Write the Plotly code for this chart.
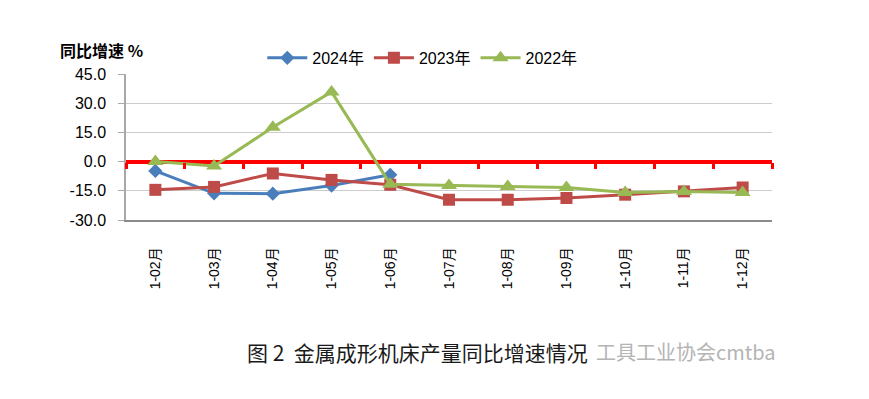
import plotly.graph_objects as go

categories = ["1-02月", "1-03月", "1-04月", "1-05月", "1-06月", "1-07月",
              "1-08月", "1-09月", "1-10月", "1-11月", "1-12月"]
y2024 = [-4.8, -16.3, -16.5, -12.3, -6.8, None, None, None, None, None, None]
y2023 = [-14.5, -13.0, -6.1, -9.4, -11.9, -19.6, -19.6, -18.7, -17.0, -15.3, -13.3]
y2022 = [0.0, -2.2, 17.6, 35.8, -11.6, -12.3, -12.8, -13.3, -15.9, -15.3, -15.9]
yticks = [45, 30, 15, 0, -15, -30]
ytick_text = ["45.0", "30.0", "15.0", "0.0", "-15.0", "-30.0"]

C24, C23, C22 = "#4A7EBB", "#BE4B48", "#98B954"
FONT = "Liberation Sans, Arial, Noto Sans CJK SC"

fig = go.Figure()
fig.add_trace(go.Scatter(x=categories, y=y2024, name="2024年", mode="lines+markers",
                         line=dict(color=C24, width=3),
                         marker=dict(symbol="diamond", size=11, color=C24)))
fig.add_trace(go.Scatter(x=categories, y=y2023, name="2023年", mode="lines+markers",
                         line=dict(color=C23, width=3),
                         marker=dict(symbol="square", size=12, color=C23)))
fig.add_trace(go.Scatter(x=categories, y=y2022, name="2022年", mode="lines+markers",
                         line=dict(color=C22, width=3),
                         marker=dict(symbol="triangle-up", size=14, color=C22)))
# invisible trace to carry the zero-line category axis
fig.add_trace(go.Scatter(x=categories, y=[0] * len(categories), xaxis="x2", mode="lines",
                         line=dict(width=0), opacity=0, showlegend=False, hoverinfo="skip"))

ymin, ymax = -30, 45
zero_pos = (0 - ymin) / (ymax - ymin)

fig.update_layout(
    width=869, height=399,
    margin=dict(l=126, r=97, t=74, b=179, autoexpand=False),
    paper_bgcolor="white", plot_bgcolor="white",
    font=dict(family=FONT, size=15, color="#000000"),
    showlegend=True,
    legend=dict(orientation="h", x=0.211, xanchor="left", y=1.11, yanchor="middle",
                font=dict(family=FONT, size=16, color="#000000"),
                itemwidth=40, bgcolor="rgba(0,0,0,0)"),
    xaxis=dict(type="category", range=[-0.5, 10.5], showgrid=False, automargin=False,
               showline=True, linecolor="#8a8a8a", linewidth=1.5,
               ticks="", tickangle=-90, ticklabelstandoff=20,
               tickfont=dict(family=FONT, size=14, color="#000000"),
               mirror=False, zeroline=False),
    xaxis2=dict(type="category", range=[-0.5, 10.5], overlaying="x", anchor="free",
                position=zero_pos, showgrid=False, showline=False, automargin=False,
                ticks="outside", tickson="boundaries", ticklen=6, tickwidth=2.5,
                tickcolor="#FF0000", showticklabels=False, zeroline=False),
    yaxis=dict(range=[ymin, ymax], tickvals=yticks, ticktext=ytick_text, automargin=False,
               showgrid=True, gridcolor="#cccccc", gridwidth=1.2,
               showline=True, linecolor="#a8a8a8", linewidth=1.5,
               ticks="outside", ticklen=6, tickcolor="#a8a8a8",
               ticklabelstandoff=9,
               zeroline=True, zerolinecolor="#FF0000", zerolinewidth=3.5,
               tickfont=dict(family=FONT, size=16, color="#000000")),
    annotations=[
        dict(text="<b>同比增速 %</b>", xref="paper", yref="paper", x=-0.105, y=1.165,
             xanchor="left", yanchor="middle", showarrow=False,
             font=dict(family="Noto Sans CJK SC", size=16, color="#000000")),
        dict(text="工具工业协会cmtba", xref="paper", yref="paper",
             x=(594 - 126) / 646, y=-0.904, xanchor="left", yanchor="middle", showarrow=False,
             font=dict(family="Noto Sans CJK SC", size=20, color="#b4b4b4")),
        dict(text="图 2  金属成形机床产量同比增速情况", xref="paper", yref="paper",
             x=(245 - 126) / 646, y=-0.904, xanchor="left", yanchor="middle", showarrow=False,
             font=dict(family="Noto Sans CJK SC", size=21, color="#1a1a1a")),
    ],
)

fig.write_html("out.html", config={"displayModeBar": False},
               post_script="document.body.style.margin='0';document.body.style.overflow='hidden';")
